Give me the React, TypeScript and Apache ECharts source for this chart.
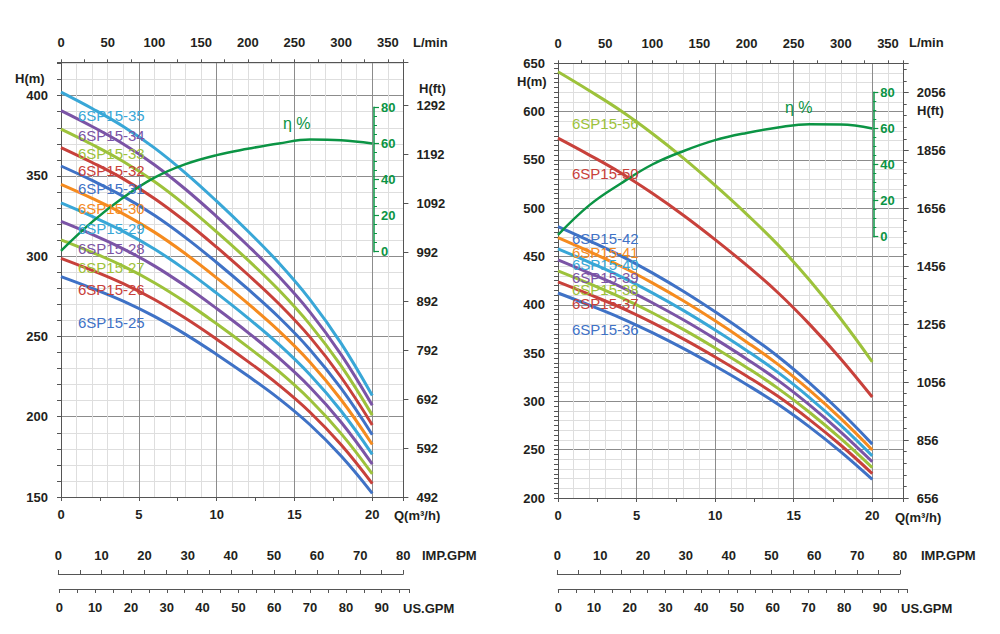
import React, { useEffect, useRef } from "react";
import * as echarts from "echarts";

// ---------------- DATA ----------------
const flowQ = [0, 2, 4, 6, 8, 10, 12, 14, 16, 18, 20];

const head25 = [287.3, 280.0, 272.0, 262.5, 251.3, 238.8, 225.5, 211.3, 195.0, 175.5, 152.3];
const head26 = [298.7, 291.2, 282.9, 273.0, 261.3, 248.3, 234.5, 219.7, 202.8, 182.5, 158.3];
const head27 = [310.2, 302.4, 293.8, 283.5, 271.4, 257.9, 243.5, 228.2, 210.6, 189.5, 164.4];
const head28 = [321.7, 313.6, 304.6, 294.0, 281.4, 267.4, 252.6, 236.6, 218.4, 196.6, 170.5];
const head29 = [333.2, 324.8, 315.5, 304.5, 291.5, 277.0, 261.6, 245.1, 226.2, 203.6, 176.6];
const head30 = [344.7, 336.0, 326.4, 315.0, 301.5, 286.5, 270.6, 253.5, 234.0, 210.6, 182.7];
const head31 = [356.2, 347.2, 337.3, 325.5, 311.6, 296.1, 279.6, 262.0, 241.8, 217.6, 188.8];
const head32 = [367.7, 358.4, 348.2, 336.0, 321.6, 305.6, 288.6, 270.4, 249.6, 224.6, 194.9];
const head33 = [379.2, 369.6, 359.0, 346.5, 331.7, 315.2, 297.7, 278.9, 257.4, 231.7, 201.0];
const head34 = [390.7, 380.8, 369.9, 357.0, 341.7, 324.7, 306.7, 287.3, 265.2, 238.7, 207.1];
const head35 = [402.2, 392.0, 380.8, 367.5, 351.8, 334.3, 315.7, 295.8, 273.0, 245.7, 213.2];

const head36 = [412.2, 399.6, 386.3, 371.2, 354.6, 336.6, 317.5, 297.0, 273.6, 247.7, 219.2];
const head37 = [423.7, 410.7, 397.0, 381.5, 364.5, 346.0, 326.3, 305.3, 281.2, 254.6, 225.3];
const head38 = [435.1, 421.8, 407.7, 391.8, 374.3, 355.3, 335.2, 313.5, 288.8, 261.4, 231.4];
const head39 = [446.6, 432.9, 418.5, 402.1, 384.2, 364.7, 344.0, 321.8, 296.4, 268.3, 237.5];
const head40 = [458.0, 444.0, 429.2, 412.4, 394.0, 374.0, 352.8, 330.0, 304.0, 275.2, 243.6];
const head41 = [469.5, 455.1, 439.9, 422.7, 403.9, 383.4, 361.6, 338.3, 311.6, 282.1, 249.7];
const head42 = [480.9, 466.2, 450.7, 433.0, 413.7, 392.7, 370.4, 346.5, 319.2, 289.0, 255.8];
const head50 = [572.5, 555.0, 536.5, 515.5, 492.5, 467.5, 441.0, 412.5, 380.0, 344.0, 304.5];
const head56 = [641.2, 621.6, 600.9, 577.4, 551.6, 523.6, 493.9, 462.0, 425.6, 385.3, 341.0];

const effLeft = [0.5, 16.5, 30, 41, 48.5, 53.5, 57, 60, 62.1, 61.7, 60];
const effRight = [1, 17.5, 29.5, 40, 47.5, 53.5, 57.5, 60.5, 62.3, 62.2, 60];

const leftModels = ["6SP15-25", "6SP15-26", "6SP15-27", "6SP15-28", "6SP15-29", "6SP15-30", "6SP15-31", "6SP15-32", "6SP15-33", "6SP15-34", "6SP15-35"];
const leftHeads = [head25, head26, head27, head28, head29, head30, head31, head32, head33, head34, head35];
const rightModels = ["6SP15-36", "6SP15-37", "6SP15-38", "6SP15-39", "6SP15-40", "6SP15-41", "6SP15-42", "6SP15-50", "6SP15-56"];
const rightHeads = [head36, head37, head38, head39, head40, head41, head42, head50, head56];

// ---------------- STYLE / LAYOUT ----------------
const FONT = "'Liberation Sans', Arial, sans-serif";
const BLACK = "#231f20";
const GREEN = "#0b9444";
const DARK = "#8c8c8c";
const LIGHT = "#dedede";
const AXIS = "#555555";
const BLUE = "#3f72c6";
const RED = "#c8413b";
const LIME = "#9dc23b";
const PURPLE = "#7b54a6";
const CYAN = "#39a7d7";
const ORANGE = "#f58b1f";
const leftColors = [BLUE, RED, LIME, PURPLE, CYAN, ORANGE, BLUE, RED, LIME, PURPLE, CYAN];
const rightColors = [BLUE, RED, LIME, PURPLE, CYAN, ORANGE, BLUE, RED, LIME];
const leftLabelY = [322, 289.3, 267.7, 248, 228.3, 208, 188.3, 170, 153.7, 135.3, 115.7];
const rightLabelY = [329.3, 303.3, 289.3, 277.3, 264, 252.3, 238.3, 173.3, 123.3];

const leftPanel = {
  left: 61, top: 62.3, width: 342.4, height: 434.7, qMax: 22,
  hMin: 150, hMax: 420.8, hTick: 10,
  ftMin: 492, ftMax: 1380.4, ftStep: 100, ftMinor: 100,
  effX: 374, eff80Y: 107.3, eff0Y: 251.7,
  impLeft: 58.3, impWidth: 345, impY: 574, impMax: 80,
  usLeft: 59.3, usWidth: 350, usY: 589, usMax: 97.7,
  labelX: 78, labelY: leftLabelY, models: leftModels, heads: leftHeads, colors: leftColors, eff: effLeft,
};
const rightPanel = {
  left: 558, top: 63.3, width: 345.7, height: 434.7, qMax: 22,
  hMin: 200, hMax: 650, hTick: 5,
  ftMin: 656, ftMax: 2157, ftStep: 200, ftMinor: 40,
  effX: 873.3, eff80Y: 92.3, eff0Y: 236.7,
  impLeft: 557.3, impWidth: 342.7, impY: 574, impMax: 80,
  usLeft: 558.3, usWidth: 349, usY: 589, usMax: 97.65,
  labelX: 572, labelY: rightLabelY, models: rightModels, heads: rightHeads, colors: rightColors, eff: effRight,
};

const labelStyle = { fontFamily: FONT, fontSize: 13, fontWeight: "bold" as const, color: BLACK };
const off = { show: false };

function buildPanel(p: any, gi: number, xi: number, yi: number) {
  const grids: any[] = [];
  const xAxes: any[] = [];
  const yAxes: any[] = [];
  const series: any[] = [];
  const pxPerEff = (p.eff0Y - p.eff80Y) / 80;
  const effMax = 80 + (p.eff80Y - p.top) / pxPerEff;
  const effMin = -(p.top + p.height - p.eff0Y) / pxPerEff;

  grids.push({ left: p.left, top: p.top, width: p.width, height: p.height });
  grids.push({ left: p.effX, top: p.eff80Y, width: 20, height: p.eff0Y - p.eff80Y });
  grids.push({ left: p.impLeft, top: p.impY, width: p.impWidth, height: 1 });
  grids.push({ left: p.usLeft, top: p.usY - 1, width: p.usWidth, height: 1 });

  const line = { show: true, onZero: false, lineStyle: { color: AXIS, width: 1 } };
  const noLine = { show: false, onZero: false };

  // x axes
  xAxes.push({ type: "value", gridIndex: gi, position: "bottom", min: 0, max: p.qMax, interval: 1,
    axisLine: noLine, axisTick: off, axisLabel: off, splitLine: { show: true, lineStyle: { color: LIGHT, width: 1 } } });
  xAxes.push({ type: "value", gridIndex: gi, position: "bottom", min: 0, max: p.qMax, interval: 5,
    axisLine: line, axisTick: off,
    axisLabel: { ...labelStyle, margin: 11, formatter: (v: number) => (v % 5 === 0 && v <= 20 ? String(v) : "") },
    splitLine: { show: true, lineStyle: { color: DARK, width: 1 } } });
  xAxes.push({ type: "value", gridIndex: gi, position: "bottom", min: 0, max: p.qMax, interval: 2.5,
    axisLine: noLine, axisTick: { show: true, length: 4, lineStyle: { color: AXIS } }, axisLabel: off, splitLine: off });
  xAxes.push({ type: "value", gridIndex: gi, position: "top", min: 0, max: (p.qMax * 1000) / 60, interval: 25,
    axisLine: line, axisTick: { show: true, length: 3, lineStyle: { color: AXIS } },
    axisLabel: { ...labelStyle, margin: 13, formatter: (v: number) => (v % 50 === 0 ? String(v) : "") },
    splitLine: off });
  xAxes.push({ type: "value", gridIndex: gi + 1, show: false, min: 0, max: 1 });
  xAxes.push({ type: "value", gridIndex: gi + 2, position: "top", min: 0, max: p.impMax, interval: 5,
    axisLine: line, axisTick: { show: true, length: 4, lineStyle: { color: AXIS } },
    axisLabel: { ...labelStyle, margin: 12, formatter: (v: number) => (v % 10 === 0 ? String(v) : "") },
    splitLine: off });
  xAxes.push({ type: "value", gridIndex: gi + 3, position: "bottom", min: 0, max: p.usMax, interval: 5,
    axisLine: line, axisTick: { show: true, length: 4, lineStyle: { color: AXIS } },
    axisLabel: { ...labelStyle, margin: 12, formatter: (v: number) => (v % 10 === 0 && v <= 90 ? String(v) : "") },
    splitLine: off });

  // y axes
  yAxes.push({ type: "value", gridIndex: gi, position: "left", min: p.hMin, max: p.hMax, interval: 10,
    axisLine: noLine, axisTick: off, axisLabel: off, splitLine: { show: true, lineStyle: { color: LIGHT, width: 1 } } });
  yAxes.push({ type: "value", gridIndex: gi, position: "left", min: p.hMin, max: p.hMax, interval: 50,
    axisLine: line, axisTick: off,
    axisLabel: { ...labelStyle, margin: 13, formatter: (v: number) => (v % 50 === 0 ? String(v) : "") },
    splitLine: { show: true, lineStyle: { color: DARK, width: 1 } } });
  yAxes.push({ type: "value", gridIndex: gi, position: "left", min: p.hMin, max: p.hMax, interval: p.hTick,
    axisLine: noLine, axisTick: { show: true, length: 4, lineStyle: { color: AXIS } }, axisLabel: off, splitLine: off });
  yAxes.push({ type: "value", gridIndex: gi, position: "right", min: p.ftMin, max: p.ftMax, interval: p.ftStep,
    axisLine: line, axisTick: { show: true, length: 5, lineStyle: { color: AXIS } },
    axisLabel: { ...labelStyle, margin: 13, formatter: (v: number) => ((v - p.ftMin) % p.ftStep === 0 ? String(v) : "") },
    splitLine: off });
  yAxes.push({ type: "value", gridIndex: gi, position: "right", min: p.ftMin, max: p.ftMax, interval: p.ftMinor,
    axisLine: noLine, axisTick: { show: true, length: 3, lineStyle: { color: AXIS } }, axisLabel: off, splitLine: off });
  yAxes.push({ type: "value", gridIndex: gi, position: "right", show: false, min: effMin, max: effMax });
  yAxes.push({ type: "value", gridIndex: gi + 1, position: "left", min: 0, max: 80, interval: 20,
    axisLine: { show: true, onZero: false, lineStyle: { color: GREEN, width: 1.5 } },
    axisTick: { show: true, inside: true, length: 5, lineStyle: { color: GREEN, width: 1.2 } },
    minorTick: { show: true, splitNumber: 4, length: 3, lineStyle: { color: GREEN, width: 1 } },
    axisLabel: { inside: true, margin: 7, fontFamily: FONT, fontSize: 13, fontWeight: "bold", color: GREEN },
    splitLine: off });
  yAxes.push({ type: "value", gridIndex: gi + 2, position: "left", show: false, min: 0, max: 1 });
  yAxes.push({ type: "value", gridIndex: gi + 3, position: "left", show: false, min: 0, max: 1 });

  p.heads.forEach((h: number[], i: number) => {
    series.push({
      type: "line", name: p.models[i], xAxisIndex: xi + 1, yAxisIndex: yi + 1,
      data: flowQ.map((q, k) => [q, h[k]]), smooth: 0.4, showSymbol: false, silent: true,
      lineStyle: { color: p.colors[i], width: 3 }, itemStyle: { color: p.colors[i] },
    });
  });
  series.push({
    type: "line", name: "η", xAxisIndex: xi + 1, yAxisIndex: yi + 5,
    data: flowQ.map((q, k) => [q, p.eff[k]]), smooth: 0.4, showSymbol: false, silent: true,
    lineStyle: { color: GREEN, width: 2.5 }, itemStyle: { color: GREEN }, z: 5,
  });

  const graphics: any[] = p.models.map((m: string, i: number) => ({
    type: "text", x: p.labelX, y: p.labelY[i], z: 100,
    style: { text: m, fill: p.colors[i], fontFamily: FONT, fontSize: 15, verticalAlign: "middle", align: "left" },
  }));
  return { grids, xAxes, yAxes, series, graphics };
}

function txt(text: string, x: number, y: number, color = BLACK, size = 13, weight: any = "bold") {
  return { type: "text", x, y, z: 100,
    style: { text, fill: color, fontFamily: FONT, fontSize: size, fontWeight: weight, verticalAlign: "middle", align: "left" } };
}

export default function App() {
  const ref = useRef<HTMLDivElement>(null);
  useEffect(() => {
    if (!ref.current) return;
    const chart = echarts.init(ref.current, undefined, { renderer: "svg" });
    const L = buildPanel(leftPanel, 0, 0, 0);
    const R = buildPanel(rightPanel, 4, 7, 9);
    const graphics = [
      ...L.graphics, ...R.graphics,
      txt("H(m)", 15, 78.3), txt("H(ft)", 419, 88.3), txt("L/min", 413, 42), txt("Q(m³/h)", 394, 515),
      txt("IMP.GPM", 422, 555), txt("US.GPM", 403, 608), txt("η %", 283, 123, GREEN, 16, "normal"),
      txt("H(m)", 517, 81.7), txt("H(ft)", 917, 110), txt("L/min", 909, 42), txt("Q(m³/h)", 895, 517),
      txt("IMP.GPM", 921, 555), txt("US.GPM", 901, 608), txt("η %", 785, 107, GREEN, 16, "normal"),
    ];
    chart.setOption({
      animation: false,
      backgroundColor: "#ffffff",
      grid: [...L.grids, ...R.grids],
      xAxis: [...L.xAxes, ...R.xAxes],
      yAxis: [...L.yAxes, ...R.yAxes],
      series: [...L.series, ...R.series],
      graphic: graphics,
    });
    return () => chart.dispose();
  }, []);
  return <div ref={ref} style={{ position: "absolute", left: 0, top: 0, width: 1000, height: 634 }} />;
}
